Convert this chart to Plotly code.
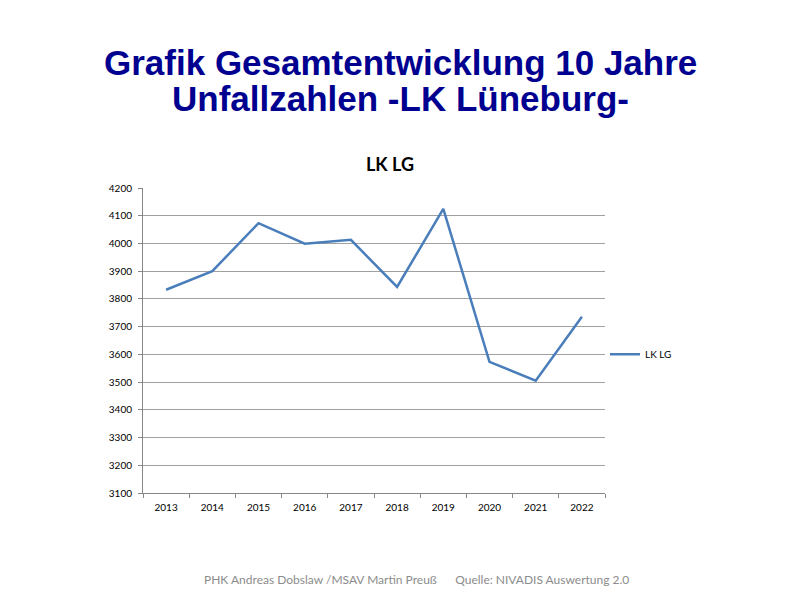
import plotly.graph_objects as go

# Unfallzahlen LK Lüneburg, 2013-2022
years = ["2013", "2014", "2015", "2016", "2017", "2018", "2019", "2020", "2021", "2022"]
unfaelle = [3833, 3900, 4073, 3999, 4013, 3843, 4125, 3573, 3505, 3736]
y_ticks = list(range(3100, 4201, 100))

fig = go.Figure()
fig.add_trace(go.Scatter(x=years, y=unfaelle, mode="lines", name="LK LG",
                         line=dict(color="#4A7EBB", width=2.5)))

# the page puts the figure 8px down/right, so the margins are shifted by that
fig.update_layout(
    width=800, height=600,
    margin=dict(l=135, r=203, t=180, b=115),
    paper_bgcolor="white", plot_bgcolor="white",
    font=dict(family="Lato, Open Sans, sans-serif", size=10, color="black"),
    showlegend=True,
    legend=dict(x=1.0, y=0.455, xanchor="left", yanchor="middle",
                font=dict(size=10), itemwidth=30),
)
fig.update_xaxes(type="category", range=[-0.5, 9.5], showgrid=False, showline=True,
                 linecolor="#868686", ticks="outside", tickson="boundaries", ticklen=4,
                 tickcolor="#868686", tickfont=dict(size=10), ticklabelstandoff=5)
fig.update_yaxes(range=[3100, 4200], tickvals=y_ticks, showgrid=True, gridcolor="#A0A0A0",
                 gridwidth=1, showline=True, linecolor="#868686", ticks="outside",
                 ticklen=4, tickcolor="#868686", zeroline=False, tickfont=dict(size=10),
                 ticklabelstandoff=4)

# Folientitel (two lines)
title_font = dict(family="Liberation Sans", size=35, color="#000090")
fig.add_annotation(text="<b>Grafik Gesamtentwicklung 10 Jahre</b>", xref="paper", yref="paper",
                   x=0.5, y=1, xshift=26, yshift=126, xanchor="center", yanchor="middle",
                   showarrow=False, font=title_font)
fig.add_annotation(text="<b>Unfallzahlen -LK Lüneburg-</b>", xref="paper", yref="paper",
                   x=0.5, y=1, xshift=26, yshift=90, xanchor="center", yanchor="middle",
                   showarrow=False, font=title_font)
# Diagrammtitel
fig.add_annotation(text="<b>LK LG</b>", xref="paper", yref="paper", x=0.5, y=1,
                   xshift=16, yshift=24, xanchor="center", yanchor="middle", showarrow=False,
                   font=dict(family="Lato, Open Sans", size=18, color="black"))
# Fußzeile
fig.add_annotation(text="PHK Andreas Dobslaw /MSAV Martin Preuß&nbsp;&nbsp;&nbsp;&nbsp;&nbsp;&nbsp;Quelle: NIVADIS Auswertung 2.0",
                   xref="paper", yref="paper", x=0.5, y=0, xshift=42, yshift=-86,
                   xanchor="center", yanchor="middle", showarrow=False,
                   font=dict(family="Lato, Open Sans", size=12, color="#8C8C8C"))

fig.write_html("out.html")
